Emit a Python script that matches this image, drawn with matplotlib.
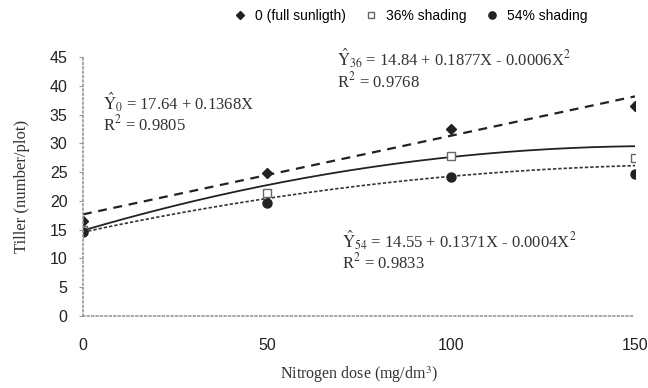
import matplotlib.pyplot as plt
import numpy as np

plt.rcParams['mathtext.fontset'] = 'stix'

# data
dose = [0, 50, 100, 150]
full_sun = [16.5, 24.9, 32.5, 36.5]
shade36 = [15.0, 21.4, 27.8, 27.4]
shade54 = [14.5, 19.6, 24.2, 24.6]

# regression coefficients printed on the chart (a, b, c)
coef_full = (17.64, 0.1368, 0.0)
coef_36 = (14.84, 0.1877, -0.0006)
coef_54 = (14.55, 0.1371, -0.0004)

fig = plt.figure(figsize=(6.48, 3.88), dpi=100)
ax = fig.add_axes([0.128, 0.186, 0.852, 0.667])

xx = np.linspace(0, 150, 200)
def curve(c):
    return c[0] + c[1] * xx + c[2] * xx ** 2

ax.plot(xx, curve(coef_full), color='#222222', lw=1.6, dashes=(4, 3))
ax.plot(xx, curve(coef_36), color='#222222', lw=1.3)
ax.plot(xx, curve(coef_54), color='#333333', lw=1.2, dashes=(2, 1.2))

h1, = ax.plot(dose, full_sun, 'D', color='#222222', ms=5, ls='none')
h2, = ax.plot(dose, shade36, 's', mfc='white', mec='#666666', ms=6, ls='none')
h3, = ax.plot(dose, shade54, 'o', color='#222222', ms=6.5, ls='none')

ax.set_xlim(0, 150)
ax.set_ylim(0, 45)
ax.set_xticks([0, 50, 100, 150])
ax.set_yticks(range(0, 46, 5))
ax.spines['top'].set_visible(False)
ax.spines['right'].set_visible(False)
for s in ['left', 'bottom']:
    ax.spines[s].set_color('#999999')
    ax.spines[s].set_linestyle(':')
    ax.spines[s].set_linewidth(1.2)
ax.tick_params(axis='y', length=3, color='#999999', labelsize=11.5, pad=8,
               labelcolor='#222222')
ax.tick_params(axis='x', length=0, labelsize=11.5, pad=16, labelcolor='#222222')
for lab in ax.get_xticklabels() + ax.get_yticklabels():
    lab.set_family('Liberation Sans')
    lab.set_clip_on(False)

ax.set_xlabel('Nitrogen dose (mg/dm$^3$)', family='Liberation Serif',
              fontsize=11.5, color='#333333', labelpad=8)
ax.set_ylabel('Tiller (number/plot)', family='Liberation Serif',
              fontsize=12, color='#333333', labelpad=14)

tk = dict(family='Liberation Serif', fontsize=12, color='#333333', va='center')
ax.text(5.4, 37.2, r'$\hat{\mathrm{Y}}_0$ = 17.64 + 0.1368X', **tk)
ax.text(5.4, 33.3, r'R$^2$ = 0.9805', **tk)
ax.text(69, 44.8, r'$\hat{\mathrm{Y}}_{36}$ = 14.84 + 0.1877X - 0.0006X$^2$', **tk)
ax.text(69, 40.7, r'R$^2$ = 0.9768', **tk)
ax.text(70.5, 13.1, r'$\hat{\mathrm{Y}}_{54}$ = 14.55 + 0.1371X - 0.0004X$^2$', **tk)
ax.text(70.5, 9.3, r'R$^2$ = 0.9833', **tk)

fig.legend([h1, h2, h3], ['0 (full sunligth)', '36% shading', '54% shading'],
           loc='upper center', bbox_to_anchor=(0.628, 1.01), ncol=3, frameon=False,
           handletextpad=0.1, columnspacing=0.8, markerscale=0.8,
           prop={'family': 'Liberation Sans', 'size': 10})

fig.savefig('out.png', dpi=100, facecolor='white')
